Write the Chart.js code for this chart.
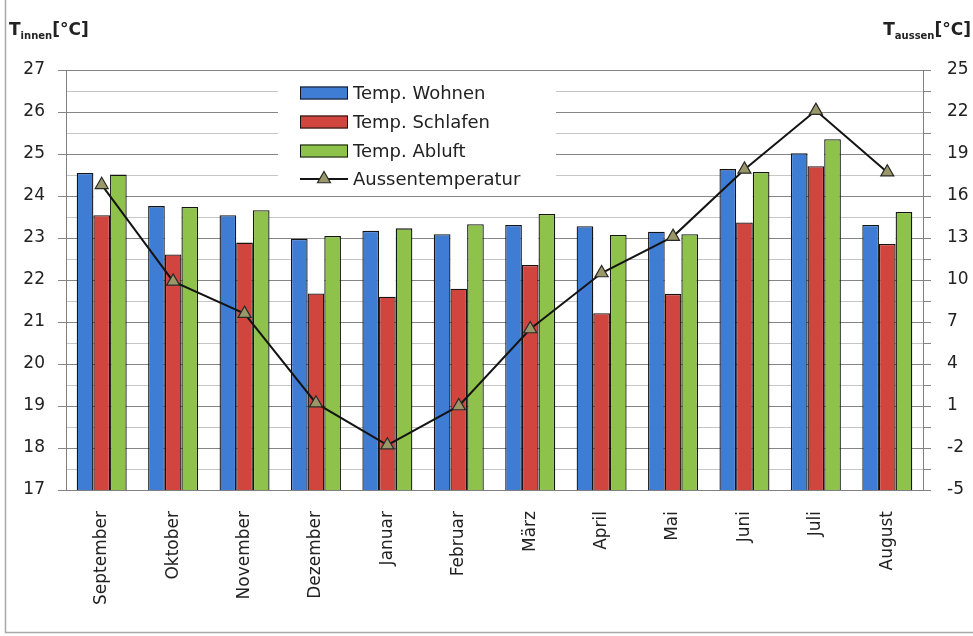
<!DOCTYPE html>
<html>
<head>
<meta charset="utf-8">
<script src="https://cdn.jsdelivr.net/npm/chart.js@4/dist/chart.umd.min.js"></script>
<style>
  html, body { margin: 0; padding: 0; background: #fff; }
  canvas { display: block; }
</style>
</head>
<body>
<canvas id="c" width="973" height="636"></canvas>
<script>
// Monthly indoor temperatures (left axis) and outdoor temperature (right axis)
const months = ['September', 'Oktober', 'November', 'Dezember', 'Januar', 'Februar',
                'März', 'April', 'Mai', 'Juni', 'Juli', 'August'];
const tempWohnen   = [24.55, 23.76, 23.54, 22.98, 23.17, 23.09, 23.31, 23.28, 23.15, 24.64, 25.02, 23.31];
const tempSchlafen = [23.54, 22.61, 22.89, 21.68, 21.60, 21.79, 22.36, 21.21, 21.67, 23.37, 24.71, 22.86];
const tempAbluft   = [24.51, 23.74, 23.66, 23.05, 23.23, 23.33, 23.57, 23.07, 23.09, 24.57, 25.35, 23.62];
const aussentemperatur = [16.8, 9.9, 7.6, 1.2, -1.8, 1.0, 6.5, 10.5, 13.1, 17.9, 22.1, 17.7];

const innenTicks  = [17, 18, 19, 20, 21, 22, 23, 24, 25, 26, 27];
const aussenTicks = [-5, -2, 1, 4, 7, 10, 13, 16, 19, 22, 25];

const FONT = '"DejaVu Sans", sans-serif';
const TEXT = '#222222';

// labelled ticks plus an unlabelled tick halfway between each pair
function withMidpoints(values) {
  const out = [];
  values.forEach((v, i) => {
    out.push({ value: v, minor: false });
    if (i < values.length - 1) out.push({ value: (v + values[i + 1]) / 2, minor: true });
  });
  return out;
}

// white column above each Schlafen bar, between its neighbours
const gapMask = {
  id: 'gapMask',
  beforeDatasetsDraw(chart) {
    const ctx = chart.ctx;
    const b = chart.getDatasetMeta(0).data;
    const r = chart.getDatasetMeta(1).data;
    const g = chart.getDatasetMeta(2).data;
    ctx.save();
    ctx.fillStyle = '#ffffff';
    r.forEach((bar, i) => {
      const top = Math.max(b[i].y, g[i].y);
      if (bar.y > top) {
        ctx.fillRect(bar.x - bar.width / 2, top, bar.width, bar.y - top);
      }
    });
    ctx.restore();
  }
};

// legend box inside the plot, axis titles and outer frame
const decorations = {
  id: 'decorations',
  afterDraw(chart) {
    const ctx = chart.ctx;
    ctx.save();

    // legend
    const lx = 278, ly = 73, lw = 278, lh = 119;
    ctx.fillStyle = '#ffffff';
    ctx.fillRect(lx, ly, lw, lh);
    const rows = [93, 122, 151, 179];
    ctx.font = '18px ' + FONT;
    ctx.textBaseline = 'middle';
    ctx.textAlign = 'left';
    chart.data.datasets.forEach((ds, i) => {
      const y = rows[i];
      if (ds.type === 'line') {
        ctx.strokeStyle = ds.borderColor;
        ctx.lineWidth = 2;
        ctx.beginPath();
        ctx.moveTo(300, y);
        ctx.lineTo(348, y);
        ctx.stroke();
        ctx.fillStyle = ds.pointBackgroundColor;
        ctx.strokeStyle = ds.pointBorderColor;
        ctx.lineWidth = ds.pointBorderWidth;
        ctx.beginPath();
        const rad = ds.pointRadius;
        const side = rad * 3 / Math.sqrt(3);
        const h = side * Math.sqrt(3) / 2;
        ctx.moveTo(324, y - rad);
        ctx.lineTo(324 + side / 2, y - rad + h);
        ctx.lineTo(324 - side / 2, y - rad + h);
        ctx.closePath();
        ctx.fill();
        ctx.stroke();
      } else {
        ctx.fillStyle = ds.backgroundColor;
        ctx.fillRect(300, y - 6.5, 48, 13);
        ctx.strokeStyle = ds.borderColor;
        ctx.lineWidth = 1;
        ctx.strokeRect(300.5, y - 6, 47, 12);
      }
      ctx.fillStyle = TEXT;
      ctx.fillText(ds.label, 353, y + 1);
    });

    // axis titles
    function axisTitle(sub, x, alignRight) {
      ctx.textBaseline = 'alphabetic';
      ctx.textAlign = 'left';
      const big = 'bold 17px ' + FONT, small = 'bold 10px ' + FONT;
      ctx.font = big; const wT = ctx.measureText('T').width;
      const wU = ctx.measureText('[°C]').width;
      ctx.font = small; const wS = ctx.measureText(sub).width;
      const x0 = alignRight ? x - (wT + wS + wU) : x;
      ctx.fillStyle = TEXT;
      ctx.font = big; ctx.fillText('T', x0, 35);
      ctx.font = small; ctx.fillText(sub, x0 + wT, 39);
      ctx.font = big; ctx.fillText('[°C]', x0 + wT + wS, 35);
    }
    axisTitle('innen', 9, false);
    axisTitle('aussen', 971, true);

    // outer frame
    ctx.strokeStyle = '#a8a8a8';
    ctx.lineWidth = 1.5;
    ctx.beginPath();
    ctx.moveTo(5.5, 0);
    ctx.lineTo(5.5, 632.5);
    ctx.lineTo(973, 632.5);
    ctx.stroke();
    ctx.restore();
  }
};

const barStyle = { type: 'bar', borderColor: '#141414', borderWidth: 1.3,
                   categoryPercentage: 0.7, barPercentage: 1.0, order: 1, yAxisID: 'y' };

new Chart(document.getElementById('c'), {
  data: {
    labels: months,
    datasets: [
      Object.assign({ label: 'Temp. Wohnen',   data: tempWohnen,   backgroundColor: '#3f7dd4' }, barStyle),
      Object.assign({ label: 'Temp. Schlafen', data: tempSchlafen, backgroundColor: '#d0463f' }, barStyle),
      Object.assign({ label: 'Temp. Abluft',   data: tempAbluft,   backgroundColor: '#8fc24a' }, barStyle),
      {
        type: 'line', label: 'Aussentemperatur', data: aussentemperatur, yAxisID: 'y2',
        borderColor: '#141414', borderWidth: 2, tension: 0, order: 0,
        pointStyle: 'triangle', pointRadius: 7.5, pointHoverRadius: 7.5,
        pointBackgroundColor: '#9a9868', pointBorderColor: '#2a2a2a', pointBorderWidth: 1.2
      }
    ]
  },
  options: {
    responsive: false,
    animation: false,
    devicePixelRatio: 1,
    layout: { padding: { top: 70, bottom: 0, left: 0, right: 0 } },
    plugins: { legend: { display: false }, tooltip: { enabled: false } },
    scales: {
      x: {
        afterFit(s) { s.height = 146; },
        grid: { drawOnChartArea: false, drawTicks: false },
        border: { color: '#808080' },
        ticks: { minRotation: 90, maxRotation: 90, padding: 21, autoSkip: false,
                 color: TEXT, font: { family: FONT, size: 17 } }
      },
      y: {
        position: 'left', min: 17, max: 27,
        afterFit(s) { s.width = 66; },
        afterBuildTicks(s) { s.ticks = withMidpoints(innenTicks); },
        grid: {
          color: c => (c.tick && c.tick.minor) ? '#c6c6c6' : '#858585',
          tickColor: c => (c.tick && c.tick.minor) ? 'rgba(0,0,0,0)' : '#858585',
          tickLength: 8
        },
        border: { color: '#808080' },
        ticks: { autoSkip: false, padding: 13, color: TEXT, font: { family: FONT, size: 17 },
                 callback(v, i, t) { return t[i].minor ? '' : String(v); } }
      },
      y2: {
        position: 'right', min: -5, max: 25,
        afterFit(s) { s.width = 50; },
        afterBuildTicks(s) { s.ticks = withMidpoints(aussenTicks); },
        grid: { drawOnChartArea: false, tickColor: '#858585', tickLength: 8 },
        border: { color: '#808080' },
        ticks: { autoSkip: false, padding: 16, color: TEXT, font: { family: FONT, size: 17 },
                 callback(v, i, t) { return t[i].minor ? '' : String(v); } }
      }
    }
  },
  plugins: [gapMask, decorations]
});
</script>
</body>
</html>
